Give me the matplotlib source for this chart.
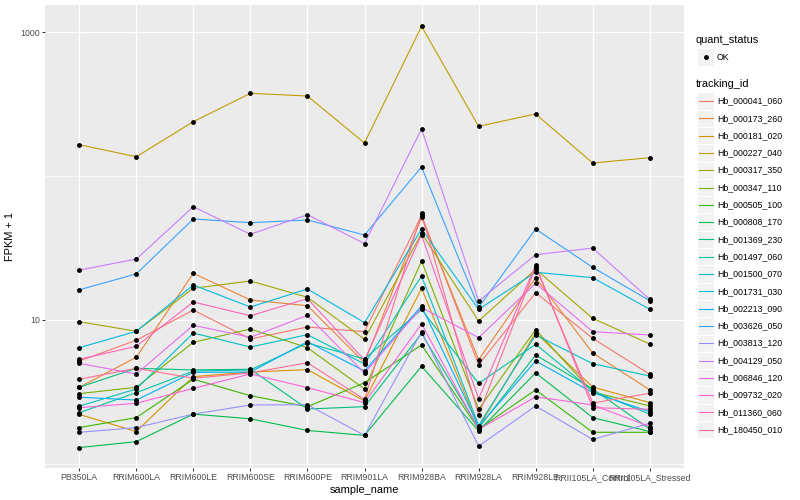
import matplotlib
matplotlib.use("Agg")
import matplotlib.pyplot as plt
from matplotlib.patches import Rectangle
from matplotlib.lines import Line2D

plt.rcParams['font.family'] = ['Liberation Sans', 'DejaVu Sans']

samples = ["PB350LA", "RRIM600LA", "RRIM600LE", "RRIM600SE", "RRIM600PE", "RRIM901LA",
           "RRIM928BA", "RRIM928LA", "RRIM928LE", "RRII105LA_Control", "RRII105LA_Stressed"]

tracking_ids = ["Hb_000041_060", "Hb_000173_260", "Hb_000181_020", "Hb_000227_040",
                "Hb_000317_350", "Hb_000347_110", "Hb_000505_100", "Hb_000808_170",
                "Hb_001369_230", "Hb_001497_060", "Hb_001500_070", "Hb_001731_030",
                "Hb_002213_090", "Hb_003626_050", "Hb_003813_120", "Hb_004129_050",
                "Hb_006846_120", "Hb_009732_020", "Hb_011360_060", "Hb_180450_010"]

colors = ["#F8766D", "#EA8331", "#D89000", "#C09B00", "#A3A500", "#7CAE00", "#39B600",
          "#00BB4E", "#00BF7D", "#00C1A3", "#00BFC4", "#00BAE0", "#00B0F6", "#35A2FF",
          "#9590FF", "#C77CFF", "#E76BF3", "#FA62DB", "#FF62BC", "#FF6C91"]

Hb_000041_060 = [5.19, 7.23, 11.73, 7.38, 8.94, 8.29, 53.2, 4.89, 15.47, 7.46, 4.20]
Hb_000173_260 = [3.41, 5.51, 21.1, 13.77, 12.57, 5.05, 51.7, 5.30, 19.67, 5.90, 3.27]
Hb_000181_020 = [2.21, 1.68, 4.04, 4.35, 4.52, 2.74, 16.6, 1.80, 8.16, 3.42, 2.67]
Hb_000227_040 = [165.0, 136.1, 238.3, 375.1, 359.3, 169.5, 1095.5, 221.4, 269.6, 123.1, 134.0]
Hb_000317_350 = [9.73, 8.35, 16.6, 18.66, 14.38, 7.35, 40.0, 9.84, 22.5, 10.27, 6.81]
Hb_000347_110 = [3.08, 3.41, 7.00, 8.66, 6.42, 3.32, 25.7, 2.40, 8.56, 3.16, 2.53]
Hb_000505_100 = [1.79, 2.10, 3.88, 2.98, 2.50, 3.67, 6.71, 1.75, 3.27, 1.66, 1.66]
Hb_000808_170 = [1.30, 1.43, 2.22, 2.06, 1.71, 1.58, 4.77, 1.70, 4.29, 2.10, 1.68]
Hb_001369_230 = [3.41, 4.62, 4.50, 4.55, 2.41, 2.50, 8.06, 1.78, 5.71, 3.32, 1.75]
Hb_001497_060 = [2.27, 3.13, 4.42, 4.50, 6.92, 5.36, 11.83, 3.63, 6.78, 3.21, 2.22]
Hb_001500_070 = [2.52, 3.32, 8.12, 6.49, 7.91, 4.95, 20.2, 1.85, 7.87, 4.97, 4.08]
Hb_001731_030 = [6.42, 8.35, 17.5, 12.31, 16.42, 9.58, 42.8, 11.87, 21.45, 19.67, 11.87]
Hb_002213_090 = [2.91, 2.78, 4.33, 4.35, 7.07, 4.42, 12.51, 1.82, 5.19, 3.13, 2.31]
Hb_003626_050 = [16.2, 20.9, 50.3, 47.4, 49.5, 38.9, 115.5, 12.25, 42.8, 23.2, 13.6]
Hb_003813_120 = [1.66, 1.79, 2.22, 2.57, 2.58, 1.58, 8.29, 1.33, 2.53, 1.48, 1.92]
Hb_004129_050 = [22.2, 26.5, 61.2, 39.4, 53.9, 33.9, 212.1, 13.55, 28.4, 31.6, 13.9]
Hb_006846_120 = [5.00, 4.22, 9.19, 7.58, 10.78, 4.27, 12.21, 7.54, 17.98, 8.29, 7.87]
Hb_009732_020 = [2.46, 2.64, 3.35, 4.22, 3.39, 2.67, 9.38, 1.74, 2.93, 2.57, 1.82]
Hb_011360_060 = [5.33, 6.57, 13.34, 10.71, 14.06, 5.28, 38.9, 2.84, 24.1, 2.46, 2.40]
Hb_180450_010 = [3.88, 4.62, 3.94, 4.29, 5.05, 2.81, 55.1, 2.19, 23.45, 2.65, 3.10]

series = [Hb_000041_060, Hb_000173_260, Hb_000181_020, Hb_000227_040, Hb_000317_350,
          Hb_000347_110, Hb_000505_100, Hb_000808_170, Hb_001369_230, Hb_001497_060,
          Hb_001500_070, Hb_001731_030, Hb_002213_090, Hb_003626_050, Hb_003813_120,
          Hb_004129_050, Hb_006846_120, Hb_009732_020, Hb_011360_060, Hb_180450_010]

y_ticks = [10, 1000]
y_tick_labels = ["10", "1000"]
y_minor = [1, 100]

W, H = 800, 500
fig = plt.figure(figsize=(W / 72, H / 72), dpi=72)
fig.patch.set_facecolor("white")

pl, pr, pt, pb = 45, 684, 5, 468
ax = fig.add_axes([pl / W, 1 - pb / H, (pr - pl) / W, (pb - pt) / H])
ax.set_facecolor("#EBEBEB")
ax.set_yscale("log")
ax.set_xlim(-0.6, len(samples) - 1 + 0.6)
ax.set_ylim(0.938, 1540)

for v in y_minor:
    ax.axhline(v, color="white", lw=0.7, zorder=0.5)
for v in y_ticks:
    ax.axhline(v, color="white", lw=1.4, zorder=0.6)
for i in range(len(samples)):
    ax.axvline(i, color="white", lw=1.4, zorder=0.6)

xs = list(range(len(samples)))
for vals, c in zip(series, colors):
    ax.plot(xs, vals, color=c, lw=1.1, zorder=2, solid_capstyle="butt")
for vals in series:
    ax.plot(xs, vals, linestyle="none", marker="o", ms=3.8, color="black", zorder=3)

for s in ax.spines.values():
    s.set_visible(False)

ax.set_xticks(xs)
ax.set_xticklabels(samples)
ax.set_yticks(y_ticks)
ax.set_yticklabels(y_tick_labels)
ax.yaxis.set_minor_locator(matplotlib.ticker.NullLocator())
ax.tick_params(axis="both", which="major", length=2.75, width=1.0, color="#333333",
               labelsize=8.8, labelcolor="#4D4D4D", pad=2.2)
ax.set_xlabel("sample_name", fontsize=11, color="black", labelpad=3)
ax.set_ylabel("FPKM + 1", fontsize=11, color="black", labelpad=5)

# legend drawn in figure pixel coordinates
lg = fig.add_axes([0, 0, 1, 1], zorder=5)
lg.set_xlim(0, W)
lg.set_ylim(H, 0)
lg.axis("off")
lg.patch.set_alpha(0)

kx, ks = 697, 17.28
lg.text(696, 40, "quant_status", fontsize=11, va="center", ha="left")
lg.add_patch(Rectangle((kx, 57 - ks / 2), ks, ks, fc="#F2F2F2", ec="white", lw=1))
lg.plot([kx + ks / 2], [57], marker="o", ms=3.8, color="black")
lg.text(717, 57, "OK", fontsize=8.8, va="center", ha="left")

lg.text(696, 84, "tracking_id", fontsize=11, va="center", ha="left")
for i, (name, c) in enumerate(zip(tracking_ids, colors)):
    y = 101 + i * 17.3
    lg.add_patch(Rectangle((kx, y - ks / 2), ks, ks, fc="#F2F2F2", ec="white", lw=1))
    lg.add_line(Line2D([kx + 1.7, kx + ks - 1.7], [y, y], color=c, lw=1.1))
    lg.text(717, y, name, fontsize=8.8, va="center", ha="left")

fig.savefig("out.png", dpi=72)
